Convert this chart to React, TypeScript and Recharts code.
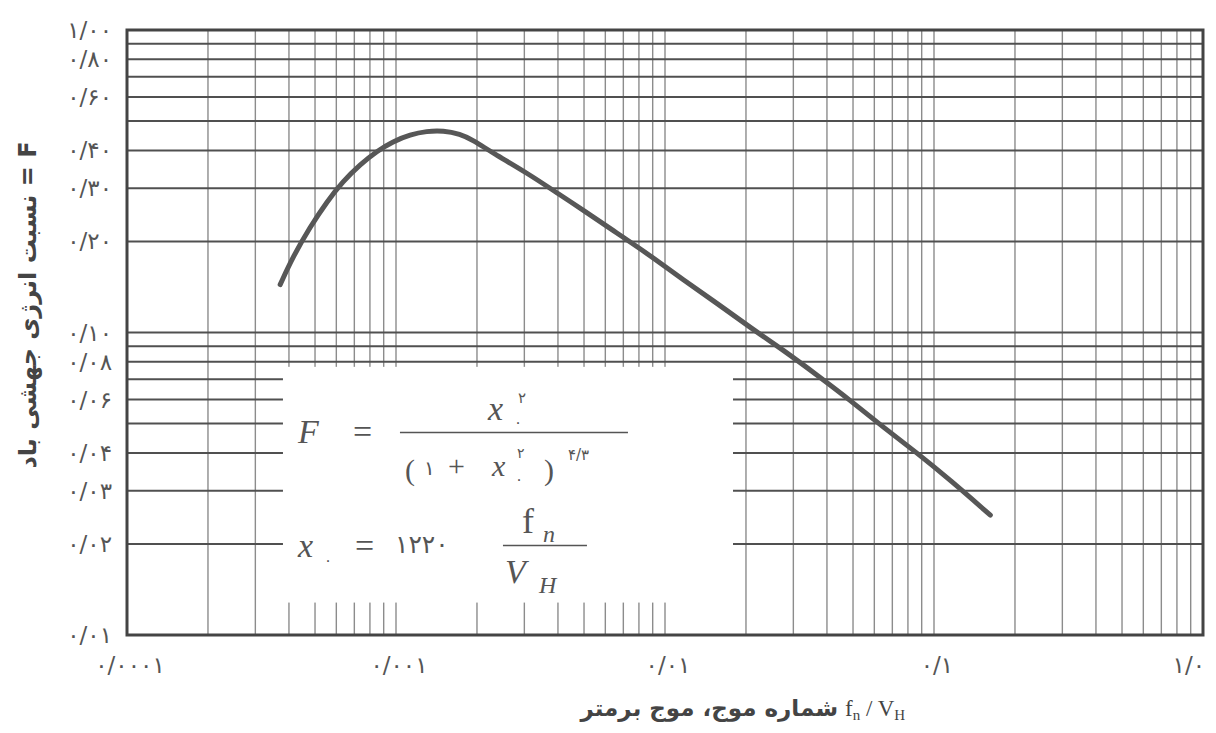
import React from 'react';
import { LineChart, Line, XAxis, YAxis, CartesianGrid, ReferenceArea } from 'recharts';

// wave number f_n / V_H
const waveNumber = [
  0.000371, 0.000414, 0.000479, 0.000554, 0.000635, 0.000735, 0.00085, 0.000974,
  0.00113, 0.0013, 0.0015, 0.00173, 0.00193, 0.00229, 0.00307, 0.00407, 0.00496,
  0.00663, 0.00879, 0.0117, 0.0156, 0.0207, 0.0275, 0.0367, 0.0487, 0.0646, 0.0865,
  0.115, 0.162,
];
// F = energy ratio
const energyRatio = [
  0.144, 0.178, 0.223, 0.271, 0.316, 0.359, 0.398, 0.428,
  0.451, 0.463, 0.465, 0.453, 0.433, 0.392, 0.337, 0.285, 0.254,
  0.213, 0.18, 0.149, 0.125, 0.104, 0.0875, 0.0724, 0.0598, 0.0487, 0.04,
  0.0325, 0.0249,
];

const xGridTicks = [
  0.0001, 0.0002, 0.0003, 0.0004, 0.0005, 0.0006, 0.0007, 0.0008, 0.0009,
  0.001, 0.002, 0.003, 0.004, 0.005, 0.006, 0.007, 0.008, 0.009,
  0.01, 0.02, 0.03, 0.04, 0.05, 0.06, 0.07, 0.08, 0.09,
  0.1, 0.2, 0.3, 0.4, 0.5, 0.6, 0.7, 0.8, 0.9, 1,
];
const yGridTicks = [
  0.01, 0.02, 0.03, 0.04, 0.05, 0.06, 0.07, 0.08, 0.09,
  0.1, 0.2, 0.3, 0.4, 0.5, 0.6, 0.7, 0.8, 0.9, 1,
];
const xLabelValues = [0.0001, 0.001, 0.01, 0.1, 1];
const xLabelTexts = ['۰/۰۰۰۱', '۰/۰۰۱', '۰/۰۱', '۰/۱', '۱/۰'];
const yLabelValues = [1, 0.8, 0.6, 0.4, 0.3, 0.2, 0.1, 0.08, 0.06, 0.04, 0.03, 0.02, 0.01];
const yLabelTexts = ['۱/۰۰', '۰/۸۰', '۰/۶۰', '۰/۴۰', '۰/۳۰', '۰/۲۰', '۰/۱۰', '۰/۰۸', '۰/۰۶', '۰/۰۴', '۰/۰۳', '۰/۰۲', '۰/۰۱'];

// white formula panel, in data units
const formulaBoxX = [0.00038, 0.0179];
const formulaBoxY = [0.0128, 0.077];

const xTitle = 'شماره موج، موج برمتر';
const yTitle = 'نسبت انرژی جهشی باد = F';

const data = waveNumber.map((x, i) => ({ x, f: energyRatio[i] }));

const INK = '#555';
const SERIF = 'Liberation Serif, DejaVu Serif, serif';
const FA = 'DejaVu Sans';

const findIdx = (arr: number[], v: number) => arr.findIndex((t) => Math.abs(t - v) <= t * 1e-6);

const XTick = (props: any) => {
  const { x, y, payload } = props;
  const i = findIdx(xLabelValues, payload.value);
  if (i < 0) return <g />;
  const last = i === xLabelValues.length - 1;
  return (
    <text x={last ? x + 2 : x + 3} y={y + 38} textAnchor={last ? 'end' : 'middle'}
      fontFamily={FA} fontSize={23} fill={INK} letterSpacing={3}>
      {xLabelTexts[i]}
    </text>
  );
};

const YTick = (props: any) => {
  const { x, y, payload } = props;
  const i = findIdx(yLabelValues, payload.value);
  if (i < 0) return <g />;
  return (
    <text x={x - 15} y={y + 8} textAnchor="end" fontFamily={FA} fontSize={23} fill={INK} letterSpacing={3}>
      {yLabelTexts[i]}
    </text>
  );
};

const FormulaBox = (props: any) => {
  const { x, y, width, height } = props;
  const x0 = x + 2;
  const yb = y + height;
  return (
    <g>
      <rect x={x} y={y} width={width} height={height} fill="#fff" stroke="none" />
      {/* F = x0^2 / (1 + x0^2)^(4/3) */}
      <text x={x0 + 13} y={yb - 160} fontFamily={SERIF} fontStyle="italic" fontSize={34} fill={INK}>F</text>
      <text x={x0 + 68} y={yb - 160} fontFamily={SERIF} fontSize={34} fill={INK}>=</text>
      <text x={x0 + 203} y={yb - 183} fontFamily={SERIF} fontStyle="italic" fontSize={34} fill={INK}>x</text>
      <text x={x0 + 233} y={yb - 200} fontFamily={FA} fontSize={15} fill={INK}>۲</text>
      <text x={x0 + 229} y={yb - 176} fontFamily={FA} fontSize={15} fill={INK}>۰</text>
      <line x1={x0 + 115} x2={x0 + 343} y1={yb - 170} y2={yb - 170} stroke={INK} strokeWidth={1.6} />
      <text x={x0 + 120} y={yb - 123} fontFamily={SERIF} fontSize={30} fill={INK}>(</text>
      <text x={x0 + 139} y={yb - 128} fontFamily={FA} fontSize={20} fill={INK}>۱</text>
      <text x={x0 + 163} y={yb - 127} fontFamily={SERIF} fontSize={30} fill={INK}>+</text>
      <text x={x0 + 207} y={yb - 127} fontFamily={SERIF} fontStyle="italic" fontSize={30} fill={INK}>x</text>
      <text x={x0 + 232} y={yb - 145} fontFamily={FA} fontSize={14} fill={INK}>۲</text>
      <text x={x0 + 230} y={yb - 119} fontFamily={FA} fontSize={15} fill={INK}>۰</text>
      <text x={x0 + 259} y={yb - 123} fontFamily={SERIF} fontSize={30} fill={INK}>)</text>
      <text x={x0 + 283} y={yb - 143} fontFamily={FA} fontSize={15} fill={INK} letterSpacing={2}>۴/۳</text>
      {/* x0 = 1220 fn / VH */}
      <text x={x0 + 13} y={yb - 46} fontFamily={SERIF} fontStyle="italic" fontSize={34} fill={INK}>x</text>
      <text x={x0 + 39} y={yb - 38} fontFamily={FA} fontSize={15} fill={INK}>۰</text>
      <text x={x0 + 70} y={yb - 46} fontFamily={SERIF} fontSize={34} fill={INK}>=</text>
      <text x={x0 + 110} y={yb - 50} fontFamily={FA} fontSize={25} fill={INK}>۱۲۲۰</text>
      <text x={x0 + 237} y={yb - 70} fontFamily={SERIF} fontSize={36} fill={INK}>f</text>
      <text x={x0 + 258} y={yb - 61} fontFamily={SERIF} fontStyle="italic" fontSize={24} fill={INK}>n</text>
      <line x1={x0 + 218} x2={x0 + 302} y1={yb - 57} y2={yb - 57} stroke={INK} strokeWidth={1.6} />
      <text x={x0 + 220} y={yb - 20} fontFamily={SERIF} fontStyle="italic" fontSize={34} fill={INK}>V</text>
      <text x={x0 + 254} y={yb - 10} fontFamily={SERIF} fontStyle="italic" fontSize={24} fill={INK}>H</text>
    </g>
  );
};

export default function App() {
  return (
    <div style={{ position: 'absolute', left: 0, top: 0, width: 1216, height: 733, background: '#fff' }}>
      <LineChart width={1216} height={733} data={data} margin={{ top: 30, right: 13, bottom: 0, left: 0 }}>
        <CartesianGrid horizontal={false} vertical={true} stroke="#8c8c8c" strokeWidth={1.4} />
        <CartesianGrid horizontal={true} vertical={false} stroke="#505050" strokeWidth={2} />
        <XAxis dataKey="x" type="number" scale="log" domain={[0.0001, 1]} allowDataOverflow
          ticks={xGridTicks} interval={0} tick={(p: any) => <XTick {...p} />} tickLine={false}
          axisLine={false} tickSize={0} tickMargin={0} height={98} />
        <YAxis type="number" scale="log" domain={[0.01, 1]} allowDataOverflow
          ticks={yGridTicks} interval={0} tick={(p: any) => <YTick {...p} />} tickLine={false}
          axisLine={false} tickSize={0} tickMargin={0} width={127} />
        <ReferenceArea x1={formulaBoxX[0]} x2={formulaBoxX[1]} y1={formulaBoxY[0]} y2={formulaBoxY[1]}
          shape={(p: any) => <FormulaBox {...p} />} />
        <ReferenceArea x1={0.0001} x2={1} y1={0.01} y2={1} fill="none" fillOpacity={0}
          stroke="#444" strokeWidth={3} />
        <Line dataKey="f" type="basis" stroke="#575757" strokeWidth={5} dot={false}
          strokeLinecap="round" isAnimationActive={false} />
      </LineChart>
      <svg width={1216} height={733} style={{ position: 'absolute', left: 0, top: 0, pointerEvents: 'none' }}>
        <text transform="translate(36,305) rotate(-90)" textAnchor="middle" fontFamily={FA}
          fontWeight="bold" fontSize={24} fill="#444">{yTitle}</text>
        <text x={838} y={716} textAnchor="end" fontFamily={FA} fontWeight="bold" fontSize={23} fill="#444">{xTitle}</text>
        <text x={845} y={716} fontFamily={SERIF} fontSize={23} fill="#444">
          f<tspan fontSize={15} dy={4}>n</tspan>
          <tspan dy={-4}> / V</tspan>
          <tspan fontSize={15} dy={4}>H</tspan>
        </text>
      </svg>
    </div>
  );
}
